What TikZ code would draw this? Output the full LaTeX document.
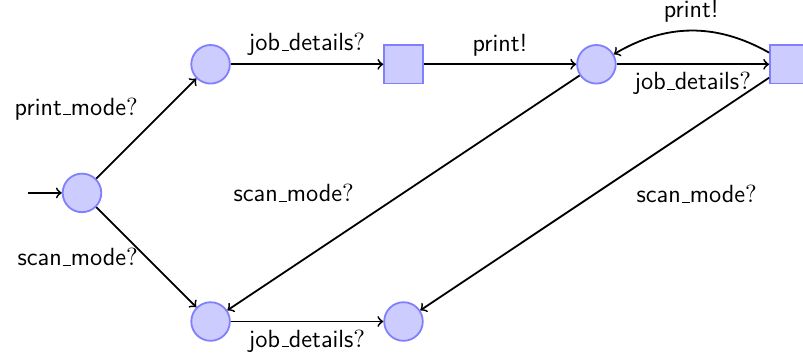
\documentclass[tikz,border=0pt]{standalone}
\usetikzlibrary{arrows,positioning}
\newcommand\usc{\kern.06em\vbox{\hrule width.3em}}
\tikzset{
  st/.style={circle,draw=blue!50,fill=blue!20,thick,minimum size=6mm,inner sep=0pt},
  sq/.style={rectangle,draw=blue!50,fill=blue!20,thick,minimum size=6mm,inner sep=0pt},
  tr/.style={->,thick},
  lbl/.style={font=\sffamily\fontsize{11}{13}\selectfont}
}
\begin{document}
\begin{tikzpicture}[>=to]
\useasboundingbox (-1.275,-2.63) rectangle (11.213,3.0);
\node[st] (a) at (0,0) {};
\node[st] (b) at (2,2) {};
\node[sq] (s1) at (5,2) {};
\node[st] (c) at (8,2) {};
\node[sq] (s2) at (11,2) {};
\node[st] (d) at (2,-2) {};
\node[st] (e) at (5,-2) {};
\coordinate (init) at (-0.84,0);
\draw[tr] (init) -- (a);
\draw[tr] (a) -- node[lbl,above left] {print\usc mode$?$} (b);
\draw[tr] (a) -- node[lbl,left] {scan\usc mode$?$} (d);
\draw[tr] (b) -- node[lbl,above] {job\usc details$?$} (s1);
\draw[tr] (s1) -- node[lbl,above] {print!} (c);
\draw[tr] (c) -- node[lbl,below] {job\usc details$?$} (s2);
\draw[tr] (s2) to[bend right=30] node[lbl,above] {print!} (c);
\draw[tr] (c) -- node[lbl,midway,left=0.64cm] {scan\usc mode$?$} (d);
\draw[tr] (s2) -- node[lbl,midway,right=0.52cm] {scan\usc mode$?$} (e);
\draw[tr] (d) -- node[lbl,below] {job\usc details$?$} (e);
\end{tikzpicture}
\end{document}
